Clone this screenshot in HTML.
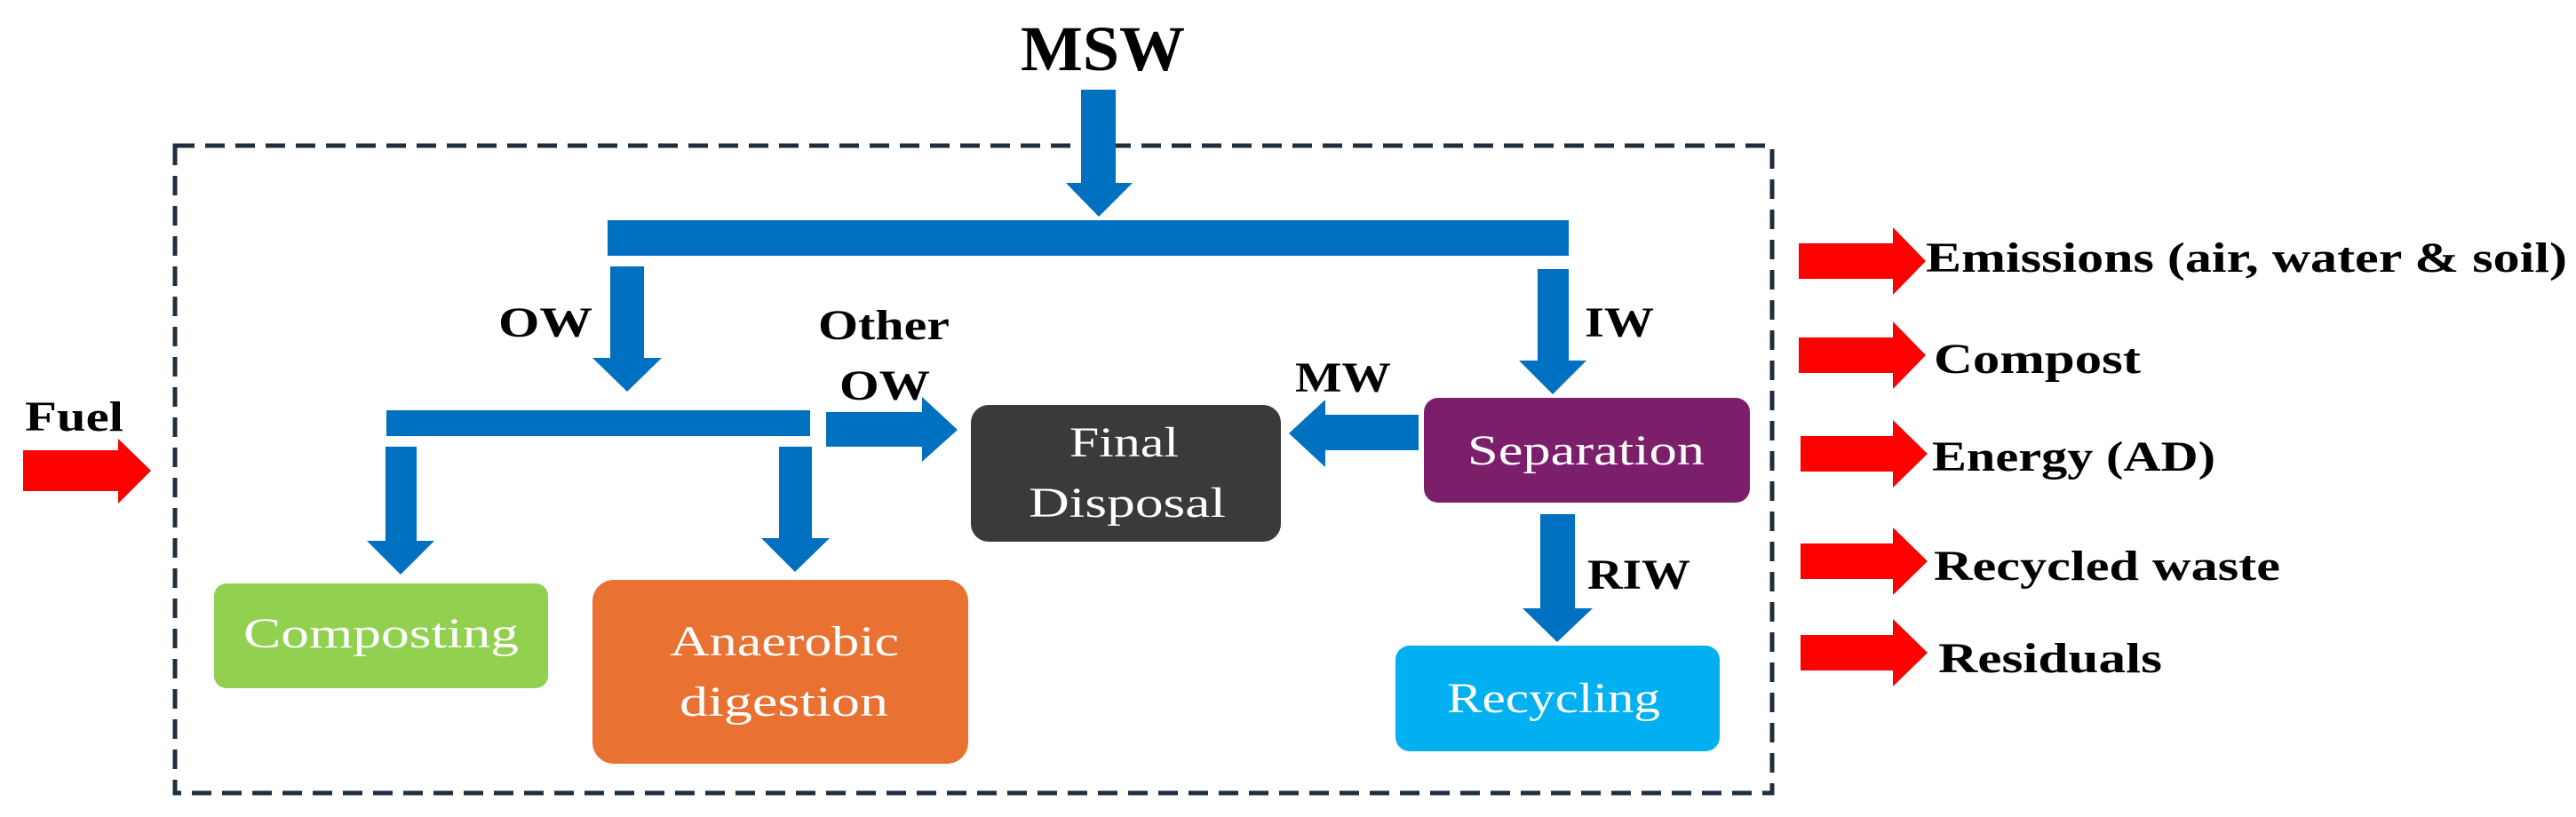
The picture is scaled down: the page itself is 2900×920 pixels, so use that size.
<!DOCTYPE html>
<html><head><meta charset="utf-8"><style>html,body{margin:0;padding:0;background:#fff}svg{display:block}</style></head>
<body>
<svg width="2900" height="920" viewBox="0 0 2900 920" xmlns="http://www.w3.org/2000/svg">
<g font-family="'Liberation Serif', serif">
<!-- dashed frame -->
<rect x="197" y="164" width="1798" height="729" fill="none" stroke="#1f2d3d" stroke-width="5" stroke-dasharray="22,12"/>
<!-- MSW -->
<text x="1149" y="79" font-size="72" font-weight="bold" textLength="185" lengthAdjust="spacingAndGlyphs">MSW</text>
<g fill="#0070c0">
<!-- MSW arrow -->
<polygon points="1217,101 1256,101 1256,206 1275,206 1237,244 1200,206 1217,206"/>
<!-- top bar -->
<rect x="684" y="248" width="1082" height="40"/>
<!-- OW arrow -->
<polygon points="687,300 725,300 725,403 745,403 706,441 667,403 687,403"/>
<!-- IW arrow -->
<polygon points="1731,303 1766,303 1766,406 1786,406 1748,444 1710,406 1731,406"/>
<!-- sub bar -->
<rect x="435" y="462" width="477" height="29"/>
<!-- down to composting -->
<polygon points="434,503 469,503 469,609 489,609 451,647 413,609 434,609"/>
<!-- down to AD -->
<polygon points="877,503 914,503 914,606 934,606 895,644 857,606 877,606"/>
<!-- Other OW arrow -->
<polygon points="930,464 1038,464 1038,447 1078,484 1038,520 1038,503 930,503"/>
<!-- MW arrow -->
<polygon points="1597,467 1492,467 1492,450 1451,488 1492,526 1492,507 1597,507"/>
<!-- RIW arrow -->
<polygon points="1734,579 1773,579 1773,685 1793,685 1753,723 1714,685 1734,685"/>
</g>
<!-- boxes -->
<rect x="1093" y="456" width="349" height="154" rx="20" fill="#3a3a3a"/>
<rect x="1603" y="448" width="367" height="118" rx="16" fill="#7b1f6a"/>
<rect x="1571" y="727" width="365" height="119" rx="16" fill="#00b0f0"/>
<rect x="241" y="657" width="376" height="118" rx="14" fill="#92d050"/>
<rect x="667" y="653" width="423" height="207" rx="24" fill="#e97132"/>
<g fill="#fff" font-size="48">
<text x="1204" y="514" textLength="123" lengthAdjust="spacingAndGlyphs">Final</text>
<text x="1158" y="582" textLength="222" lengthAdjust="spacingAndGlyphs">Disposal</text>
<text x="1652" y="523" textLength="267" lengthAdjust="spacingAndGlyphs">Separation</text>
<text x="1629" y="802" textLength="240" lengthAdjust="spacingAndGlyphs">Recycling</text>
<text x="274" y="729" textLength="310" lengthAdjust="spacingAndGlyphs">Composting</text>
<text x="754" y="738" textLength="258" lengthAdjust="spacingAndGlyphs">Anaerobic</text>
<text x="765" y="806" textLength="235" lengthAdjust="spacingAndGlyphs">digestion</text>
</g>
<g fill="#000" font-size="48" font-weight="bold">
<text x="561" y="379" textLength="106" lengthAdjust="spacingAndGlyphs">OW</text>
<text x="921" y="382" textLength="148" lengthAdjust="spacingAndGlyphs">Other</text>
<text x="945" y="450" textLength="102" lengthAdjust="spacingAndGlyphs">OW</text>
<text x="1784" y="379" textLength="78" lengthAdjust="spacingAndGlyphs">IW</text>
<text x="1458" y="441" textLength="108" lengthAdjust="spacingAndGlyphs">MW</text>
<text x="1787" y="663" textLength="116" lengthAdjust="spacingAndGlyphs">RIW</text>
<text x="28" y="485" textLength="111" lengthAdjust="spacingAndGlyphs">Fuel</text>
<text x="2168" y="306" textLength="722" lengthAdjust="spacingAndGlyphs">Emissions (air, water &amp; soil)</text>
<text x="2177" y="420" textLength="233" lengthAdjust="spacingAndGlyphs">Compost</text>
<text x="2175" y="530" textLength="319" lengthAdjust="spacingAndGlyphs">Energy (AD)</text>
<text x="2177" y="653" textLength="390" lengthAdjust="spacingAndGlyphs">Recycled waste</text>
<text x="2182" y="757" textLength="252" lengthAdjust="spacingAndGlyphs">Residuals</text>
</g>
<!-- red arrows -->
<g fill="#ff0000">
<polygon points="26,507 133,507 133,494 170,530 133,567 133,553 26,553"/>
<polygon points="2025,274 2131,274 2131,256 2168,294 2131,332 2131,314 2025,314"/>
<polygon points="2025,380 2131,380 2131,362 2168,400 2131,438 2131,420 2025,420"/>
<polygon points="2027,491 2131,491 2131,473 2170,511 2131,549 2131,531 2027,531"/>
<polygon points="2027,612 2131,612 2131,594 2170,632 2131,670 2131,652 2027,652"/>
<polygon points="2027,715 2131,715 2131,697 2170,735 2131,773 2131,755 2027,755"/>
</g>
</g>
</svg>
</body></html>
